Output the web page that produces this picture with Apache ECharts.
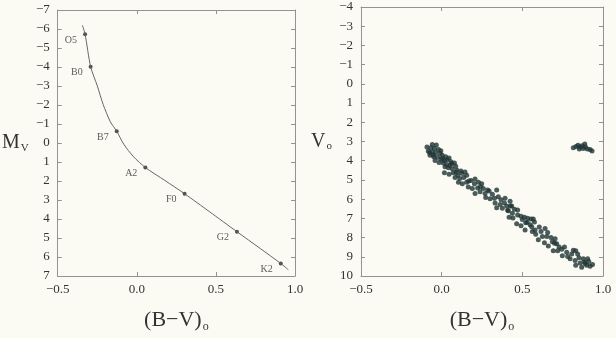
<!DOCTYPE html>
<html>
<head>
<meta charset="utf-8">
<script src="https://cdn.jsdelivr.net/npm/echarts@6/dist/echarts.min.js"></script>
<style>
  html, body { margin: 0; padding: 0; background: #fcfbf3; }
  #chart { width: 616px; height: 338px; }
</style>
</head>
<body>
<div id="chart"></div>
<script>
// Left panel: main sequence calibration curve, (B-V)o vs Mv
var curveBV = [-0.344, -0.327, -0.292, -0.25, -0.2125, -0.167, -0.127, -0.083, -0.021, 0.054, 0.177, 0.302, 0.46, 0.633, 0.78, 0.91, 0.958];
var curveMv = [-6.2, -5.72, -4.01, -3.01, -2.02, -1.11, -0.62, 0.06, 0.72, 1.29, 1.97, 2.67, 3.62, 4.67, 5.55, 6.34, 6.67];

var starTypes = ['O5', 'B0', 'B7', 'A2', 'F0', 'G2', 'K2'];
var starBV = [-0.327, -0.292, -0.127, 0.054, 0.302, 0.633, 0.91];
var starMv = [-5.72, -4.01, -0.62, 1.29, 2.67, 4.67, 6.34];

// Right panel: cluster photometry, (B-V)o vs Vo
var clusterBV = [
  // upper main sequence
  -0.058, -0.033, -0.091, -0.066, -0.045, -0.020, -0.083, -0.058, -0.037, -0.010,
  0.004, 0.025, 0.046, -0.072, -0.049, -0.025, -0.004, 0.017, -0.041, -0.016,
  0.010, 0.031, 0.052, 0.062, 0.079, 0.021, 0.042, 0.066, 0.087, 0.095,
  0.120, 0.017, 0.046, 0.072, 0.100, 0.124, 0.145, 0.083, 0.112, 0.137,
  0.155, 0.104, 0.128, 0.155, 0.182, 0.207, 0.203, 0.228, 0.248, 0.165,
  0.190, 0.223, 0.258, 0.207, 0.238, 0.269, 0.294, 0.314, 0.341, 0.273,
  0.300, 0.327, 0.351, 0.368, 0.331, 0.362, 0.389, 0.403, 0.341, 0.376,
  0.409, 0.434, 0.424, 0.393,
  -0.075, -0.005, 0.035, 0.058, 0.168, 0.240, 0.285, 0.006, -0.052, 0.090,
  // lower main sequence
  0.426, 0.451, 0.471, 0.413, 0.438, 0.418, 0.442, 0.471, 0.492, 0.513,
  0.500, 0.533, 0.554, 0.568, 0.465, 0.492, 0.521, 0.548, 0.575, 0.517,
  0.558, 0.579, 0.562, 0.583, 0.599, 0.616, 0.641, 0.657, 0.624, 0.651,
  0.678, 0.637, 0.661, 0.686, 0.703, 0.713, 0.728, 0.692, 0.719, 0.744,
  0.761, 0.775, 0.748, 0.781, 0.806, 0.816, 0.831, 0.843, 0.796, 0.827,
  0.851, 0.878, 0.831, 0.858, 0.885, 0.905, 0.899, 0.920, 0.868, 0.889,
  0.530, 0.605, 0.700, 0.912, 0.935,
  // giants clump
  0.816, 0.833, 0.845, 0.858, 0.870, 0.878, 0.891, 0.903, 0.920, 0.932, 0.853, 0.887
];
var clusterV = [
  3.16, 3.18, 3.29, 3.32, 3.36, 3.42, 3.49, 3.54, 3.59, 3.62,
  3.71, 3.79, 3.86, 3.71, 3.79, 3.82, 3.92, 3.99, 3.99, 4.09,
  4.12, 4.20, 4.25, 4.15, 4.12, 4.32, 4.37, 4.42, 4.29, 4.49,
  4.54, 4.62, 4.70, 4.62, 4.75, 4.65, 4.59, 4.87, 4.92, 4.87,
  4.75, 5.12, 5.20, 5.12, 5.03, 4.95, 5.20, 5.12, 5.20, 5.37,
  5.45, 5.42, 5.45, 5.70, 5.62, 5.70, 5.58, 5.75, 5.53, 5.92,
  5.98, 5.95, 5.87, 6.03, 6.20, 6.28, 6.20, 6.36, 6.45, 6.48,
  6.58, 6.36, 6.11, 5.95,
  3.58, 3.48, 3.95, 4.05, 5.05, 5.35, 5.52, 3.88, 3.70, 4.60,
  6.36, 6.53, 6.56, 6.61, 6.73, 6.94, 6.98, 6.83, 6.89, 6.94,
  7.06, 6.99, 7.03, 7.03, 7.28, 7.39, 7.23, 7.33, 7.19, 7.61,
  7.44, 7.61, 7.69, 7.83, 8.11, 7.69, 7.53, 7.73, 7.94, 7.94,
  7.99, 8.27, 8.44, 8.22, 8.06, 8.32, 8.49, 8.69, 8.69, 8.61,
  8.49, 8.77, 8.94, 8.99, 8.85, 8.66, 8.69, 8.85, 9.10, 9.19,
  9.05, 9.10, 9.44, 9.32, 9.27, 9.10, 9.44, 9.49, 9.55, 9.35,
  7.20, 7.45, 8.30, 9.25, 9.40,
  3.32, 3.26, 3.19, 3.29, 3.22, 3.36, 3.29, 3.39, 3.42, 3.49, 3.39, 3.13
];

var xTicks = [-0.5, 0.0, 0.5, 1.0];

var serif = '"Liberation Serif", "DejaVu Serif", serif';
var ink = '#333333';
var boxColor = '#929292';

function minusFmt(v) {
    return String(v).replace('-', '\u2212');
}

function pairs(xs, ys) {
    return xs.map(function(x, i) { return [x, ys[i]]; });
}

function xAxisFor(grid, show) {
    return {
        type: 'value',
        gridIndex: grid,
        position: show ? 'bottom' : 'top',
        min: xTicks[0],
        max: xTicks[xTicks.length - 1],
        interval: 0.5,
        name: show ? '{p|(B\u2212V)}{s|o}' : '',
        nameLocation: 'middle',
        nameGap: 31,
        nameTextStyle: {
            rich: {
                p: { fontFamily: serif, fontSize: 22, color: ink },
                s: { fontFamily: serif, fontSize: 12, color: ink, padding: [14, 0, 0, 1] }
            }
        },
        axisLine: { show: true, onZero: false, lineStyle: { color: boxColor, width: 1 } },
        axisTick: { show: true, inside: true, length: 4, lineStyle: { color: boxColor } },
        axisLabel: {
            show: show,
            fontFamily: serif,
            fontSize: 13,
            color: ink,
            margin: 7,
            formatter: function(v) { return minusFmt(v.toFixed(1)); }
        },
        splitLine: { show: false }
    };
}

function yAxisFor(grid, min, max, show, nameRich) {
    return {
        type: 'value',
        gridIndex: grid,
        position: show ? 'left' : 'right',
        inverse: true,
        min: min,
        max: max,
        interval: 1,
        name: show ? nameRich : '',
        nameLocation: 'middle',
        nameRotate: 0,
        nameGap: 29,
        nameTextStyle: {
            rich: {
                b: { fontFamily: serif, fontSize: 20, color: ink },
                s: { fontFamily: serif, fontSize: 11, color: ink, padding: [10, 0, 0, 1] }
            }
        },
        axisLine: { show: true, onZero: false, lineStyle: { color: boxColor, width: 1 } },
        axisTick: { show: true, inside: true, length: 4, lineStyle: { color: boxColor } },
        axisLabel: {
            show: show,
            fontFamily: serif,
            fontSize: 13,
            color: ink,
            margin: 8,
            formatter: minusFmt
        },
        splitLine: { show: false }
    };
}

var chart = echarts.init(document.getElementById('chart'));

var option = {
    backgroundColor: '#fcfbf3',
    animation: false,
    grid: [
        { left: 55, top: 10, width: 240, height: 281 },
        { left: 361, top: 7, width: 242, height: 281 }
    ],
    xAxis: [
        xAxisFor(0, true), xAxisFor(0, false),
        xAxisFor(1, true), xAxisFor(1, false)
    ],
    yAxis: [
        yAxisFor(0, -7, 7, true, '{b|M}{s|V}'), yAxisFor(0, -7, 7, false, ''),
        yAxisFor(1, -4, 10, true, '{b|V}{s|o}'), yAxisFor(1, -4, 10, false, '')
    ],
    series: [
        {
            name: 'Main sequence',
            type: 'line',
            xAxisIndex: 0,
            yAxisIndex: 0,
            data: pairs(curveBV, curveMv),
            smooth: 0.25,
            showSymbol: false,
            lineStyle: { color: '#666666', width: 1 }
        },
        {
            name: 'Spectral types',
            type: 'scatter',
            xAxisIndex: 0,
            yAxisIndex: 0,
            symbolSize: 4,
            itemStyle: { color: '#222222' },
            data: starBV.map(function(x, i) {
                return { value: [x, starMv[i]], name: starTypes[i] };
            }),
            label: {
                show: true,
                position: 'left',
                distance: 6,
                offset: [0, 6],
                formatter: '{b}',
                fontFamily: serif,
                fontSize: 10,
                color: ink
            }
        },
        {
            name: 'Cluster',
            type: 'scatter',
            xAxisIndex: 2,
            yAxisIndex: 2,
            symbolSize: 5,
            itemStyle: { color: '#1e3535' },
            data: pairs(clusterBV, clusterV)
        }
    ]
};

chart.setOption(option);
</script>
</body>
</html>
